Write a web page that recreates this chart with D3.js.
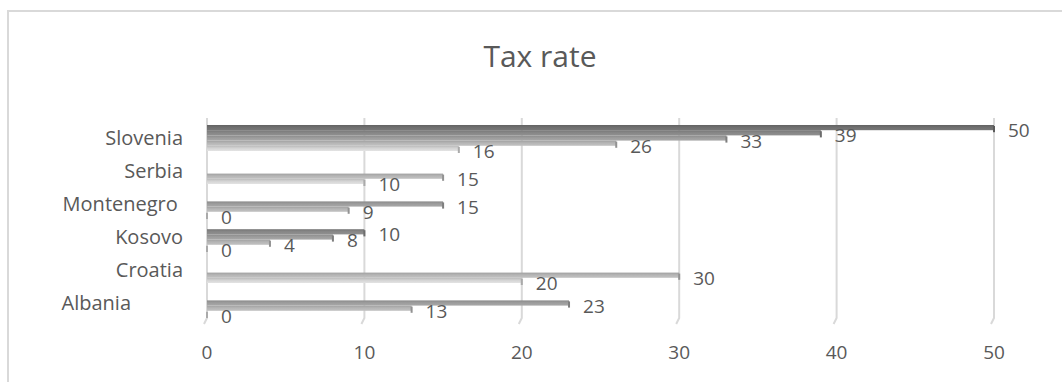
<!DOCTYPE html>
<html>
<head>
<meta charset="utf-8">
<script src="https://cdn.jsdelivr.net/npm/d3@7"></script>
<style>
  html, body { margin: 0; padding: 0; background: #fff; }
  svg { display: block; font-family: "Open Sans", "Liberation Sans", sans-serif; }
  .cat { white-space: pre; }
</style>
</head>
<body>
<svg id="chart" width="1062" height="382"></svg>
<script>
// Countries, bottom to top (trailing spaces keep Excel-style label offsets)
const countries = ["Albania          ", "Croatia", "Kosovo", "Montenegro ", "Serbia", "Slovenia"];

// Tax bracket rates per country (null = no such bracket)
const bracket1 = [0, 20, 0, 0, 10, 16];
const bracket2 = [13, 30, 4, 9, 15, 26];
const bracket3 = [23, null, 8, 15, null, 33];
const bracket4 = [null, null, 10, null, null, 39];
const bracket5 = [null, null, null, null, null, 50];

const xTicks = [0, 10, 20, 30, 40, 50];
const title = "Tax rate";

const series = [bracket1, bracket2, bracket3, bracket4, bracket5];
const seriesKeys = ["b1", "b2", "b3", "b4", "b5"];
const colors = ["#d3d3d3", "#b5b5b5", "#9c9c9c", "#868686", "#6f6f6f"];

const svg = d3.select("#chart");
const textColor = "#595959";

// Chart frame
svg.append("rect")
  .attr("x", 8).attr("y", 11)
  .attr("width", 1070).attr("height", 390)
  .attr("fill", "none").attr("stroke", "#d9d9d9").attr("stroke-width", 2);

// Title
svg.append("text")
  .attr("x", 540).attr("y", 67)
  .attr("text-anchor", "middle")
  .attr("font-size", 30)
  .attr("fill", textColor)
  .text(title);

const x = d3.scaleLinear().domain([0, 50]).range([207, 994]);
const y = d3.scaleBand().domain(countries).range([319.5, 121.5])
  .paddingInner(0.212).paddingOuter(0.106);
const ySeries = d3.scaleBand().domain(seriesKeys).range([y.bandwidth(), 0]);

// Gradients give the bars a slight shaded 3-D look
const defs = svg.append("defs");
colors.forEach((c, i) => {
  const g = defs.append("linearGradient").attr("id", "g" + i)
    .attr("x1", 0).attr("y1", 0).attr("x2", 0).attr("y2", 1);
  g.append("stop").attr("offset", "0%").attr("stop-color", d3.color(c).darker(0.35));
  g.append("stop").attr("offset", "45%").attr("stop-color", c);
  g.append("stop").attr("offset", "100%").attr("stop-color", d3.color(c).brighter(0.2));
});

// Vertical gridlines with a slanted foot (3-D floor)
const grid = svg.append("g");
xTicks.forEach(t => {
  const gx = x(t);
  grid.append("path")
    .attr("d", `M${gx},118 L${gx},318 L${gx - 3},324`)
    .attr("fill", "none").attr("stroke", "#d9d9d9").attr("stroke-width", 2);
});

// X tick labels
svg.append("g").selectAll("text").data(xTicks).join("text")
  .attr("x", d => x(d)).attr("y", 352)
  .attr("dy", "0.35em")
  .attr("text-anchor", "middle")
  .attr("font-size", 19)
  .attr("fill", textColor)
  .text(d => d);

// Category labels
svg.append("g").selectAll("text").data(countries).join("text")
  .attr("class", "cat")
  .attr("x", 183).attr("y", d => y(d) + y.bandwidth() / 2)
  .attr("dy", "0.35em")
  .attr("text-anchor", "end")
  .attr("font-size", 20)
  .attr("fill", textColor)
  .text(d => d);

// Flatten into bar records
const bars = [];
series.forEach((vals, si) => {
  vals.forEach((v, ci) => {
    if (v === null) return;
    bars.push({ country: countries[ci], s: si, v });
  });
});

const barG = svg.append("g");
bars.forEach(b => {
  const by = y(b.country) + ySeries(seriesKeys[b.s]);
  const bh = ySeries.bandwidth();
  const x0 = x(0), x1 = x(b.v);
  if (x1 > x0) {
    barG.append("rect")
      .attr("x", x0).attr("y", by)
      .attr("width", x1 - x0).attr("height", bh)
      .attr("fill", `url(#g${b.s})`);
  }
  // end face of the bar
  barG.append("rect")
    .attr("x", x1 - 1).attr("y", by + 1)
    .attr("width", 2).attr("height", bh + 1)
    .attr("fill", d3.color(colors[b.s]).darker(0.6));
});

// Value labels
svg.append("g").selectAll("text").data(bars).join("text")
  .attr("x", d => x(d.v) + 14)
  .attr("y", d => y(d.country) + ySeries(seriesKeys[d.s]) + ySeries.bandwidth() / 2 + 3)
  .attr("dy", "0.35em")
  .attr("font-size", 19)
  .attr("fill", textColor)
  .text(d => d.v);
</script>
</body>
</html>
